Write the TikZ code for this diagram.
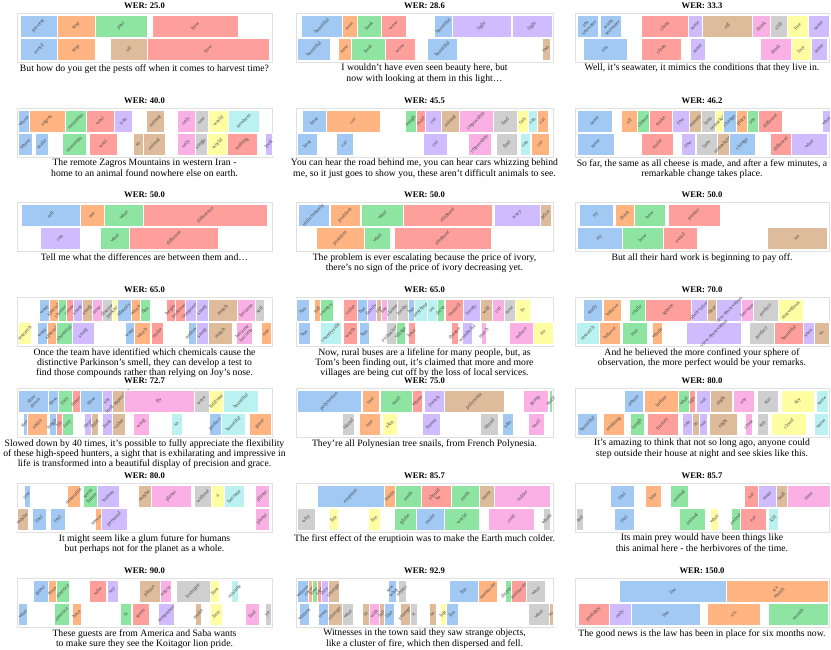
\documentclass[tikz,border=0pt]{standalone}
\usepackage{fontspec}
\setmainfont{Liberation Serif}
\definecolor{cb}{RGB}{161,201,244}
\definecolor{co}{RGB}{255,180,130}
\definecolor{cg}{RGB}{141,229,161}
\definecolor{cr}{RGB}{255,159,155}
\definecolor{cp}{RGB}{208,187,255}
\definecolor{cn}{RGB}{222,187,155}
\definecolor{ck}{RGB}{250,176,228}
\definecolor{cy}{RGB}{207,207,207}
\definecolor{cl}{RGB}{255,254,163}
\definecolor{cc}{RGB}{185,242,240}
\tikzset{
 wlbl/.style={font=\fontsize{5.3}{5.5}\selectfont, rotate=45, inner sep=0pt, align=center, text=black!72},
 ttl/.style={font=\fontsize{8.6}{10}\selectfont\bfseries, inner sep=0pt},
 captxt/.style={font=\fontsize{9.7}{10.4}\selectfont, align=center, inner sep=0pt},
 frm/.style={draw=black!12, line width=0.8pt, fill=white},
 wbox/.style={draw=white, line width=0.5pt}
}
\newcommand\wrow[2]{\foreach \xa/\xb/\xc/\xw in {#2}{%
  \path[fill=\xc, wbox] (\xa,#1) rectangle (\xb,{#1+22});
  \node[wlbl] at ({(\xa+\xb)/2},{#1+11}) {\xw};}}
\newcommand\panel[5]{%
  \path[frm] (#1,#3) rectangle (#2,{#3+49});
  \node[ttl] at ({(#1+#2)/2},{#3-7}) {#4};
  \node[captxt,anchor=north] at ({(#1+#2)/2},{#3+51}) {#5};}
\begin{document}
\begin{tikzpicture}[x=1pt,y=-1pt]
\useasboundingbox[fill=white] (0,0) rectangle (831,650);
% ---------- Row 1 ----------
\panel{17}{272}{13}{WER: 25.0}{But how do you get the pests off when it comes to harvest time?}
\wrow{15}{20/57/cb/prevent, 57/95/co/stop, 95/147/cg/pest, 152/238/cr/how}
\wrow{38}{20/57/cb/avoid, 57/95/co/stop, 110/147/cn/oil, 147/269/cr/how}
\panel{296}{553}{13}{WER: 28.6}{I wouldn't have even seen beauty here, but\\now with looking at them in this light…}
\wrow{15}{301/342/cb/beautiful, 342/357/co/now, 357/381/cg/look, 381/406/cr/wow, 434/452/cb/beautiful, 452/511/cp/light, 512/552/cp/light}
\wrow{38}{297/330/cb/beautiful, 338/351/co/now, 351/385/cg/look, 385/415/cr/wow, 427/457/cb/beautiful, 542/550/cn/two}
\panel{575}{829}{13}{WER: 33.3}{Well, it's seawater, it mimics the conditions that they live in.}
\wrow{15}{577/598/cb/{sea\\seawater}, 600/621/cb/{water\\seawater}, 641/688/cr/clean, 688/702/cp/same, 702/752/cn/off, 752/770/ck/think, 770/787/cy/still, 787/808/cl/live, 808/829/cp/same}
\wrow{38}{583/627/cb/sea, 641/681/cr/clean, 690/705/cp/same, 760/791/ck/think, 791/811/cl/live, 811/827/cp/same}
% ---------- Row 2 ----------
\panel{17}{272}{108}{WER: 40.0}{The remote Zagros Mountains in western Iran -\\home to an animal found nowhere else on earth.}
\wrow{110}{18/29/cb/where, 29/65/co/zagros, 65/86/cg/mountain, 86/114/cr/west, 114/132/cp/iran, 146/164/cn/animal, 177/195/ck/only, 195/208/cy/one, 208/228/cl/world, 228/259/cc/nowhere}
\wrow{133}{18/32/cb/where, 35/48/cb/make, 62/86/cg/mountain, 89/117/cr/west, 133/143/cn/so, 143/165/cn/animal, 177/195/ck/only, 195/207/cy/single, 207/227/cl/world, 227/257/cr/nothing, 265/272/cp/look}
\panel{296}{553}{108}{WER: 45.5}{You can hear the road behind me, you can hear cars whizzing behind\\me, so it just goes to show you, these aren't difficult animals to see.}
\wrow{110}{302/326/cb/hear, 326/380/co/car, 405/416/cg/rough, 416/425/cr/road, 425/441/cp/cut, 441/459/cn/animal, 459/493/ck/impossible, 493/517/cy/find, 517/528/cl/cars, 528/537/cc/can, 537/548/co/car}
\wrow{133}{297/317/cb/hear, 336/353/cb/car, 423/447/cp/cut, 468/491/ck/impossible, 496/517/cy/find, 520/530/cc/can, 531/549/co/car}
\panel{575}{829}{108}{WER: 46.2}{So far, the same as all cheese is made, and after a few minutes, a\\remarkable change takes place.}
\wrow{110}{577/612/cb/same, 621/637/co/all, 637/649/cg/cheese, 649/672/cr/make, 672/689/cp/few, 689/701/cn/minute, 701/715/cy/later, 715/723/cl/remarkable, 723/736/cb/change, 736/747/co/place, 747/758/cg/see, 758/782/cr/different, 822/830/cp/what}
\wrow{133}{577/614/cb/same, 641/673/cr/make, 681/695/cp/few, 696/717/cy/later, 717/729/cn/remarkable, 729/755/cb/change, 770/791/cr/different, 791/827/cp/what}
% ---------- Row 3 ----------
\panel{17}{272}{202}{WER: 50.0}{Tell me what the differences are between them and…}
\wrow{204}{21/80/cb/tell, 80/104/co/me, 104/143/cg/what, 143/267/cr/difference}
\wrow{227}{40/80/cp/can, 100/129/cg/what, 129/218/cr/different}
\panel{296}{553}{202}{WER: 50.0}{The problem is ever escalating because the price of ivory,\\there's no sign of the price of ivory decreasing yet.}
\wrow{204}{298/329/cb/unfortunately, 330/360/co/problem, 361/403/cg/what, 403/492/cr/elephant, 494/540/cp/ivory, 540/551/cn/price}
\wrow{227}{316/364/co/problem, 364/390/cg/what, 394/491/cr/elephant}
\panel{575}{829}{202}{WER: 50.0}{But all their hard work is beginning to pay off.}
\wrow{204}{579/613/cb/try, 615/634/co/think, 634/665/cg/how, 668/720/cr/protect}
\wrow{227}{577/622/cb/try, 622/663/cg/how, 663/697/cr/avoid, 767/827/cn/no}
% ---------- Row 4 ----------
\panel{17}{272}{297}{WER: 65.0}{Once the team have identified which chemicals cause the\\distinctive Parkinson's smell, they can develop a test to\\find those compounds rather than relying on Joy's nose.}
\wrow{299}{39/49/cb/want, 49/58/co/special, 58/66/cg/chemical, 66/73/cr/cause, 73/82/cp/smell, 82/92/cn/smell, 92/102/ck/nose, 102/112/cy/disease, 112/117/cl/parkinson, 117/131/cb/identify, 131/140/co/which, 140/150/cg/dna, 166/175/cr/begin, 175/185/cr/parkinson, 185/196/cp/compound, 196/208/cp/smell, 208/237/cn/match, 237/255/ck/because, 255/264/cy/sell}
\wrow{322}{18/31/cl/research, 37/47/cb/want, 47/56/co/special, 56/72/cg/chemical, 72/94/cp/smell, 125/134/cb/want, 134/150/co/which, 151/163/cr/make, 188/196/cb/nothing, 196/208/cp/smell, 208/232/cn/match, 236/252/ck/{because\\become}, 261/271/co/one}
\panel{296}{553}{297}{WER: 65.0}{Now, rural buses are a lifeline for many people, but, as\\Tom's been finding out, it's claimed that more and more\\villages are being cut off by the loss of local services.}
\wrow{299}{296/309/cb/bus, 314/320/co/toll, 320/333/cg/country, 343/357/cr/value, 357/367/cb/bus, 367/376/cp/family, 376/381/cn/cut, 381/387/ck/hay, 387/397/cy/claims, 397/408/cy/lovely, 408/414/cb/bus, 414/427/cc/anything, 427/437/cc/on, 437/444/cg/drive, 445/463/cr/council, 463/480/cp/lovely, 480/492/cn/will, 492/504/ck/cut, 504/515/cy/now, 515/530/cl/lo}
\wrow{322}{298/310/cb/bus, 320/341/cc/countryside, 343/357/cr/worth, 359/369/cb/bus, 386/396/cy/exclusively, 396/405/cg/village, 408/415/cr/have, 451/458/cr/theatre, 462/472/cp/wonderful, 481/486/ck/much, 509/533/ck/reduce, 533/553/cl/no}
\panel{575}{829}{297}{WER: 70.0}{And he believed the more confined your sphere of\\observation, the more perfect would be your remarks.}
\wrow{299}{583/602/cb/study, 603/621/co/believe, 629/645/cg/really, 645/691/cr/sphere, 691/707/cp/observation, 707/716/cn/clear, 716/741/cp/view observation, 741/753/ck/become, 753/778/cy/perfect, 778/803/cl/marvellous}
\wrow{322}{576/599/cc/research, 599/620/co/believe, 622/647/cg/true, 652/662/co/whole, 686/741/cp/view observation, 749/774/cy/perfect, 774/803/cr/beautiful, 803/814/cp/seen, 814/829/cn/so}
% ---------- Row 5 ----------
\panel{17}{272}{388}{WER: 72.7}{Slowed down by 40 times, it's possible to fully appreciate the flexibility\\of these high-speed hunters, a sight that is exhilarating and impressive in\\life is transformed into a beautiful display of precision and grace.}
\wrow{390}{18/48/cb/{slow\\down}, 48/58/cb/slow, 58/72/cg/fury, 72/80/cr/times, 80/102/cb/slow, 102/112/cp/see, 112/124/cn/look appreciate, 124/194/ck/fly, 194/209/cy/were, 209/223/cl/brilliant, 223/258/cc/beautiful}
\wrow{413}{23/27/cb/stop, 27/47/co/settle, 49/56/cb/length, 56/62/cr/lift, 62/73/cg/fury, 84/91/cp/clear, 91/98/cn/fluid, 102/112/cp/look, 112/125/cn/value, 133/149/ck/wing, 171/182/cc/so, 209/221/cb/perfect, 221/245/cc/beautiful, 249/271/co/great}
\panel{296}{553}{388}{WER: 75.0}{They're all Polynesian tree snails, from French Polynesia.}
\wrow{390}{297/361/cb/polynesian, 362/379/co/tree, 380/412/cg/snail, 412/422/cr/where, 424/444/cp/french, 444/504/cn/polynesia, 523/548/ck/group, 549/552/cg/snail}
\wrow{413}{342/354/cy/island, 359/380/co/tree, 382/397/cl/skin, 422/440/cp/france, 480/498/cy/island, 502/513/cb/sale, 528/544/ck/snail}
\panel{575}{829}{388}{WER: 80.0}{It's amazing to think that not so long ago, anyone could\\step outside their house at night and see skies like this.}
\wrow{390}{624/643/cb/amaze, 644/678/co/before, 678/689/cg/what, 689/695/cr/ago, 696/710/cp/out, 710/732/cn/night, 733/754/ck/see, 757/778/cy/star, 781/814/cl/sky, 816/828/cc/snow}
\wrow{413}{577/597/cb/beautiful, 603/624/co/anything, 630/644/cg/laugh, 647/678/cr/history, 682/692/cp/can, 692/699/cn/in, 699/707/cp/out, 709/737/cn/night, 745/752/ck/close, 757/768/cy/sun, 771/806/cl/cloud, 814/828/cc/snow}
% ---------- Row 6 ----------
\panel{17}{272}{483}{WER: 80.0}{It might seem like a glum future for humans\\but perhaps not for the planet as a whole.}
\wrow{485}{24/30/cb/you, 67/80/co/miserable, 83/97/cg/{seem\\future}, 97/119/cp/human, 138/151/cn/maybe, 151/191/ck/planet, 194/211/cy/without, 211/224/cl/a, 224/244/cc/become, 255/269/ck/planet}
\wrow{508}{17/28/cn/maybe, 32/46/cb/feel, 50/65/cb/feel, 95/101/co/nervous, 101/127/cp/personal, 255/269/ck/planet}
\panel{296}{553}{483}{WER: 85.7}{The first effect of the eruptioin was to make the Earth much colder.}
\wrow{485}{317/384/cb/eruption, 384/395/co/inside, 395/421/cg/earth, 421/451/cr/{should\\be}, 451/479/cg/earth, 479/494/cn/more, 494/550/ck/colder}
\wrow{508}{297/315/cy/why, 329/338/cl/fire, 368/380/cl/fire, 394/416/cg/globe, 416/444/cb/make, 444/479/cg/world, 488/534/ck/cold, 543/550/cy/whole}
\panel{575}{829}{483}{WER: 85.7}{Its main prey would have been things like\\this animal here - the herbivores of the time.}
\wrow{485}{610/634/cb/feel, 645/661/co/bite, 670/688/cg/animal, 744/758/cr/eat, 758/776/cp/meat, 776/787/cn/bull, 787/830/ck/time}
\wrow{508}{576/583/cy/and, 614/634/cb/feel, 679/705/cg/animal, 710/718/cl/what, 731/740/cg/animal, 740/766/cr/eat, 768/778/cc/kill}
% ---------- Row 7 ----------
\panel{17}{272}{578}{WER: 90.0}{These guests are from America and Saba wants\\to make sure they see the Koitagor lion pride.}
\wrow{580}{33/48/cb/guest, 48/56/co/from, 56/69/cg/america, 89/106/cr/saba, 107/118/cp/say, 139/160/cn/please, 160/171/ck/notice, 176/210/cy/koitagor, 210/219/cl/lion, 231/238/cc/mistake}
\wrow{603}{18/27/cb/what, 54/69/cg/america, 72/81/co/have, 120/131/cg/is, 132/149/cr/seem, 158/174/cp/remember, 195/201/cn/make, 210/222/cl/lion, 245/259/ck/find, 265/271/cy/ye}
\panel{296}{553}{578}{WER: 92.9}{Witnesses in the town said they saw strange objects,\\like a cluster of fire, which then dispersed and fell.}
\wrow{580}{297/308/cb/witness, 308/312/co/corner, 312/317/cg/town, 317/321/cr/said, 321/328/cp/they, 328/339/cn/strange, 388/396/cb/{saw\\what}, 398/406/cy/object, 449/478/cb/fire, 478/497/co/meteorite, 505/511/cg/disperse, 511/526/cr/meteorite, 526/545/cy/what}
\wrow{603}{299/309/cb/witness, 318/328/cb/town, 328/342/cn/strange, 342/353/cy/what, 362/369/cn/in, 369/379/ck/with, 379/384/cn/fall, 384/394/cb/like, 400/410/cn/strange, 410/417/cy/it, 429/436/cn/so, 440/446/cl/big, 446/458/cb/fire, 528/549/cy/what, 549/553/cn/so}
\panel{575}{829}{578}{WER: 150.0}{The good news is the law has been in place for six months now.}
\wrow{580}{619/726/cb/law, 726/828/co/{six\\month}}
\wrow{603}{578/609/cr/probably, 609/631/cp/only, 631/700/cb/law, 707/760/co/six, 768/828/cg/month}
\end{tikzpicture}
\end{document}
